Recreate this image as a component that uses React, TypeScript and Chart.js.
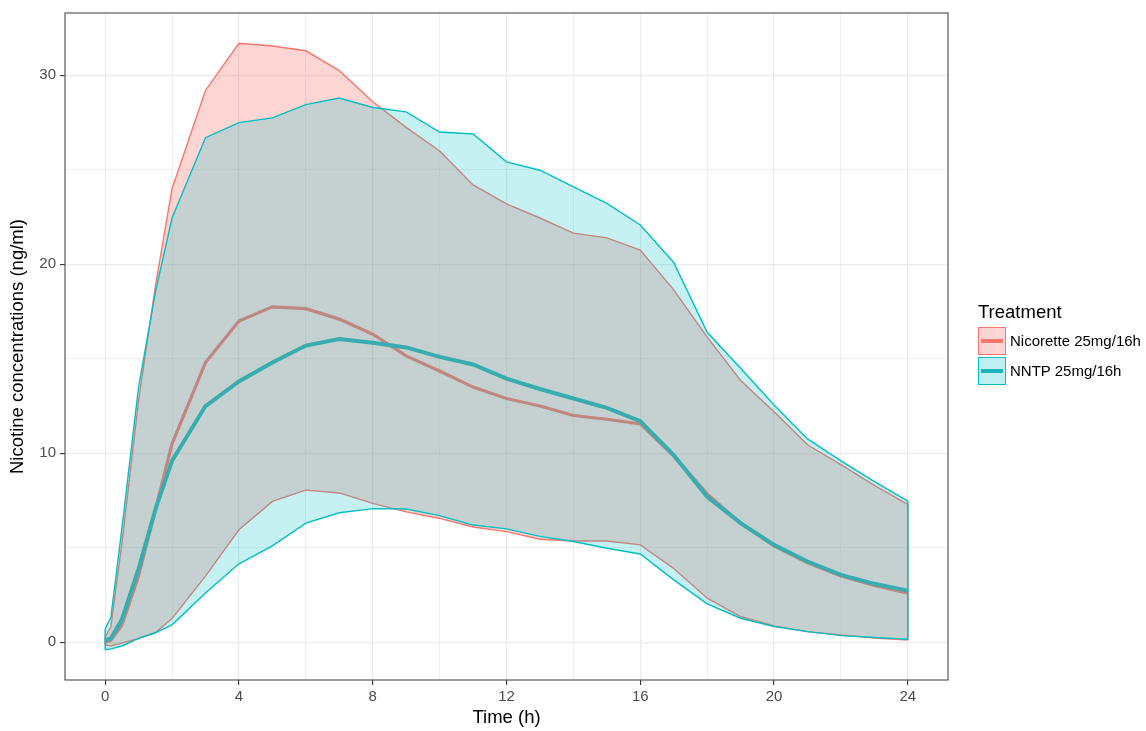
import React, { useEffect, useRef } from 'react';
import { Chart, registerables } from 'chart.js';

Chart.register(...registerables);

// ---- data (hours, ng/ml) ----
const times = [0, 0.17, 0.5, 1, 1.5, 2, 3, 4, 5, 6, 7, 8, 9, 10, 11, 12, 13, 14, 15, 16, 17, 18, 19, 20, 21, 22, 23, 24];

const nicoretteUpper = [0.3, 0.8, 5.2, 12.8, 18.8, 24.0, 29.2, 31.7, 31.55, 31.3, 30.25, 28.6, 27.25, 26.0, 24.2, 23.2, 22.45, 21.65, 21.4, 20.75, 18.65, 16.15, 13.85, 12.2, 10.45, 9.4, 8.3, 7.3];
const nicoretteMean = [0.0, 0.1, 0.9, 3.5, 7.0, 10.5, 14.8, 17.0, 17.75, 17.65, 17.1, 16.3, 15.15, 14.35, 13.5, 12.9, 12.5, 12.0, 11.8, 11.55, 9.85, 7.85, 6.3, 5.1, 4.2, 3.5, 3.0, 2.6];
const nicoretteLower = [-0.15, -0.2, -0.05, 0.2, 0.5, 1.25, 3.5, 5.95, 7.45, 8.05, 7.9, 7.35, 6.9, 6.55, 6.1, 5.85, 5.45, 5.36, 5.36, 5.15, 3.9, 2.33, 1.36, 0.86, 0.56, 0.39, 0.22, 0.12];

const nntpUpper = [0.7, 1.3, 6.0, 13.5, 18.5, 22.45, 26.7, 27.5, 27.75, 28.45, 28.8, 28.3, 28.07, 27.0, 26.9, 25.42, 24.98, 24.1, 23.22, 22.08, 20.1, 16.4, 14.5, 12.55, 10.76, 9.6, 8.5, 7.47];
const nntpMean = [0.1, 0.2, 1.2, 3.9, 7.0, 9.6, 12.5, 13.8, 14.8, 15.7, 16.05, 15.85, 15.6, 15.1, 14.7, 13.95, 13.4, 12.9, 12.4, 11.7, 9.9, 7.7, 6.3, 5.15, 4.27, 3.56, 3.09, 2.73];
const nntpLower = [-0.4, -0.35, -0.2, 0.2, 0.5, 0.92, 2.6, 4.15, 5.1, 6.3, 6.85, 7.07, 7.05, 6.7, 6.2, 6.0, 5.6, 5.33, 4.97, 4.67, 3.3, 2.03, 1.27, 0.83, 0.56, 0.35, 0.25, 0.16];

const seriesNames = ['Nicorette 25mg/16h', 'NNTP 25mg/16h'];
const legendTitle = 'Treatment';
const xTitle = 'Time (h)';
const yTitle = 'Nicotine concentrations (ng/ml)';

const xGridValues = [0, 2, 4, 6, 8, 10, 12, 14, 16, 18, 20, 22, 24];
const xMajorTicks = [0, 4, 8, 12, 16, 20, 24];
const yGridValues = [0, 5, 10, 15, 20, 25, 30];
const yMajorTicks = [0, 10, 20, 30];

// ---- styles ----
const FONT = '"Liberation Sans", Arial, Helvetica, sans-serif';
const RED = '#F8766D';
const CYAN = '#00BFC4';
const RED_FILL = 'rgba(248,118,109,0.30)';
const CYAN_FILL = 'rgba(0,191,196,0.225)';
const RED_MEAN = '#F8766D';
const CYAN_MEAN = '#38ADB0';
const TICK_SIZE = 15;
const TITLE_SIZE = 18.5;

const pts = (vals: number[]) => times.map((t, i) => ({ x: t, y: vals[i] }));
const edge = (upper: number[], lower: number[], i: number) => [
  { x: times[i], y: lower[i] },
  { x: times[i], y: upper[i] },
];

const panelBorder = {
  id: 'panelBorder',
  afterDraw(chart: any) {
    const { ctx, chartArea } = chart;
    ctx.save();
    ctx.strokeStyle = '#4a4a4a';
    ctx.lineWidth = 1.1;
    ctx.strokeRect(chartArea.left, chartArea.top, chartArea.right - chartArea.left, chartArea.bottom - chartArea.top);
    ctx.restore();
  },
};

export default function App() {
  const ref = useRef<HTMLCanvasElement | null>(null);

  useEffect(() => {
    document.body.style.margin = '0';
    const canvas = ref.current;
    if (!canvas) return;
    const last = times.length - 1;
    const ribbonLine = { pointRadius: 0, tension: 0, borderWidth: 1.4 };

    const chart = new Chart(canvas, {
      type: 'line',
      data: {
        datasets: [
          // 0: Nicorette ribbon upper (fills to 1)
          { ...ribbonLine, data: pts(nicoretteUpper), borderColor: RED, backgroundColor: RED_FILL, fill: 1, order: 10 },
          // 1: Nicorette ribbon lower
          { ...ribbonLine, data: pts(nicoretteLower), borderColor: RED, fill: false, order: 9 },
          // 2,3: Nicorette ribbon ends
          { ...ribbonLine, data: edge(nicoretteUpper, nicoretteLower, 0), borderColor: RED, fill: false, order: 8 },
          { ...ribbonLine, data: edge(nicoretteUpper, nicoretteLower, last), borderColor: RED, fill: false, order: 8 },
          // 4: Nicorette mean
          { data: pts(nicoretteMean), borderColor: RED_MEAN, borderWidth: 3.2, pointRadius: 0, tension: 0, fill: false, order: 7 },
          // 5: NNTP ribbon upper (fills to 6)
          { ...ribbonLine, data: pts(nntpUpper), borderColor: CYAN, backgroundColor: CYAN_FILL, fill: 6, order: 5 },
          // 6: NNTP ribbon lower
          { ...ribbonLine, data: pts(nntpLower), borderColor: CYAN, fill: false, order: 4 },
          // 7,8: NNTP ribbon ends
          { ...ribbonLine, data: edge(nntpUpper, nntpLower, 0), borderColor: CYAN, fill: false, order: 3 },
          { ...ribbonLine, data: edge(nntpUpper, nntpLower, last), borderColor: CYAN, fill: false, order: 3 },
          // 9: NNTP mean
          { data: pts(nntpMean), borderColor: CYAN_MEAN, borderWidth: 4, pointRadius: 0, tension: 0, fill: false, order: 1 },
        ] as any,
      },
      options: {
        animation: false,
        responsive: false,
        maintainAspectRatio: false,
        layout: { padding: { left: 0, top: 10, right: 198, bottom: 0 } },
        plugins: {
          legend: { display: false },
          tooltip: { enabled: false },
        },
        scales: {
          x: {
            type: 'linear',
            min: -1.2,
            max: 25.2,
            afterBuildTicks: (axis: any) => {
              axis.ticks = xGridValues.map((v) => ({ value: v }));
            },
            afterFit: (axis: any) => {
              axis.height = 51;
            },
            ticks: {
              autoSkip: false,
              maxRotation: 0,
              padding: 3,
              color: '#4D4D4D',
              font: { family: FONT, size: TICK_SIZE },
              callback: (v: any) => (xMajorTicks.includes(Number(v)) ? String(v) : ''),
            },
            grid: {
              color: '#EBEBEB',
              lineWidth: (c: any) => (xMajorTicks.includes(c.tick?.value) ? 1.2 : 0.8),
              drawTicks: true,
              tickLength: 5,
              tickColor: (c: any) => (xMajorTicks.includes(c.tick?.value) ? '#333333' : 'rgba(0,0,0,0)'),
              tickWidth: 1.1,
            },
            border: { display: false },
            title: {
              display: true,
              text: xTitle,
              color: '#000',
              font: { family: FONT, size: TITLE_SIZE },
              padding: { top: 0, bottom: 2 },
            },
          },
          y: {
            type: 'linear',
            min: -2.0,
            max: 33.3,
            afterBuildTicks: (axis: any) => {
              axis.ticks = yGridValues.map((v) => ({ value: v }));
            },
            afterFit: (axis: any) => {
              axis.width = 65;
            },
            ticks: {
              autoSkip: false,
              padding: 4,
              color: '#4D4D4D',
              font: { family: FONT, size: TICK_SIZE },
              callback: (v: any) => (yMajorTicks.includes(Number(v)) ? String(v) : ''),
            },
            grid: {
              color: '#EBEBEB',
              lineWidth: (c: any) => (yMajorTicks.includes(c.tick?.value) ? 1.2 : 0.8),
              drawTicks: true,
              tickLength: 5,
              tickColor: (c: any) => (yMajorTicks.includes(c.tick?.value) ? '#333333' : 'rgba(0,0,0,0)'),
              tickWidth: 1.1,
            },
            border: { display: false },
            title: {
              display: true,
              text: yTitle,
              color: '#000',
              font: { family: FONT, size: TITLE_SIZE },
              padding: { top: 7, bottom: 0 },
            },
          },
        },
      } as any,
      plugins: [panelBorder],
    });

    return () => chart.destroy();
  }, []);

  const keyColors = [
    { border: RED, fill: 'rgba(248,118,109,0.30)', line: RED },
    { border: CYAN, fill: 'rgba(0,191,196,0.25)', line: '#1DB3B6' },
  ];

  return (
    <div style={{ position: 'relative', width: 1146, height: 731, background: '#fff', fontFamily: FONT }}>
      <canvas ref={ref} width={1146} height={731} style={{ display: 'block', width: 1146, height: 731 }} />
      <div style={{ position: 'absolute', left: 978, top: 301, fontSize: TITLE_SIZE, lineHeight: '22px', color: '#000', whiteSpace: 'nowrap' }}>
        {legendTitle}
      </div>
      {seriesNames.map((name, i) => (
        <React.Fragment key={name}>
          <div
            style={{
              position: 'absolute',
              left: 978,
              top: 327 + 30 * i,
              width: 28,
              height: 28,
              boxSizing: 'border-box',
              border: `1.5px solid ${keyColors[i].border}`,
              background: keyColors[i].fill,
            }}
          >
            <div style={{ position: 'absolute', left: 2, right: 2, top: 11, height: 3.5, background: keyColors[i].line }} />
          </div>
          <div
            style={{
              position: 'absolute',
              left: 1010,
              top: 327 + 30 * i,
              lineHeight: '28px',
              fontSize: TICK_SIZE,
              color: '#000',
              whiteSpace: 'nowrap',
            }}
          >
            {name}
          </div>
        </React.Fragment>
      ))}
    </div>
  );
}
